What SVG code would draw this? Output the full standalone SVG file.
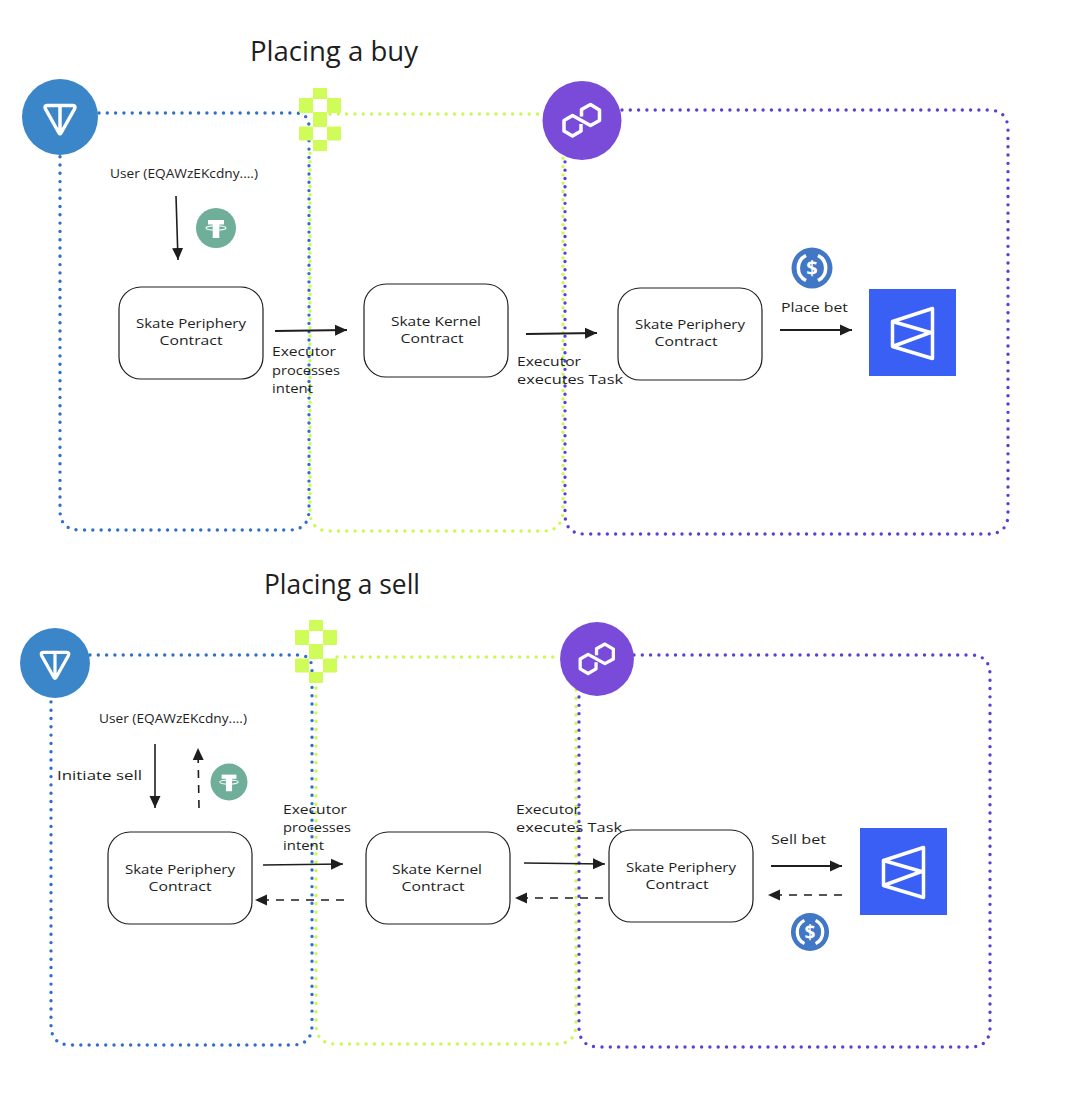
<svg xmlns="http://www.w3.org/2000/svg" width="1076" height="1102" viewBox="0 0 1076 1102">
<style>
text{font-family:"Open Sans","Liberation Sans",sans-serif;fill:#1e1e1e;font-size:13.5px}
.title{font-size:27px}
.c{text-anchor:middle}
.zone{fill:none;stroke-width:3.400;stroke-linecap:round;stroke-dasharray:0 8.3}
.blue{stroke:#2f6fc9}.green{stroke:#c9fa4e}.purple{stroke:#5a3fd4}
.box{fill:#fff;stroke:#1e1e1e;stroke-width:1.2}
.arrow{fill:none;stroke:#1e1e1e;stroke-width:1.6;marker-end:url(#head)}
.thick{stroke-width:2.200}
.dash{stroke-dasharray:8 7}
.wl{fill:none;stroke:#fff;stroke-width:3.5;stroke-linejoin:round}
.chk{fill:#cffc58;stroke:#cffc58;stroke-width:1;stroke-linejoin:round}
</style>
<defs>
<marker id="head" markerUnits="userSpaceOnUse" markerWidth="13" markerHeight="12" refX="12" refY="6" orient="auto"><path d="M0,0.5L12,6L0,11.5Z" fill="#1e1e1e"/></marker>
<g id="ton"><circle r="38" fill="#3a86c8"/><path class="wl" d="M-13,-11.5H13Q16,-11.5 14.5,-8L1,16Q0,17.500 -1,16L-14.500,-8Q-16,-11.500 -13,-11.500ZM0,-11.500V16"/></g>
<g id="poly"><circle r="39.500" fill="#7a4bd8"/><path class="wl" d="M-1,3.500V10.500L-9.500,15.500L-18,10.500V0L-9.500,-5L8.500,5L17.500,0V-10.500L8.500,-16L-0.500,-11V-4"/></g>
<g id="chk"><path class="chk" d="M15.500,0.500h13v10h-13zM1.500,10.500h13v14h-13zM29.500,10.500h13v14h-13zM15.500,24.500h13v14h-13zM1.500,39h13v13h-13zM29.500,39h13v13h-13zM15.500,52.500h13v10h-13z"/></g>
<g id="tether"><circle r="20" fill="#6fae98"/><rect x="-3.300" y="-5" width="6.600" height="15" fill="#fff"/><rect x="-8" y="-8" width="16" height="4.500" fill="#fff"/><ellipse cx="0" cy="0" rx="10" ry="2.200" fill="none" stroke="#fff" stroke-width="1.100"/></g>
<g id="usdc"><circle r="20.500" fill="#4277c6"/><path class="wl" stroke-width="2.500" d="M-6,-12.500A14,14 0 0 0 -6,12.500M6,-12.500A14,14 0 0 1 6,12.500"/></g>
<g id="bet"><rect x="-43.500" y="-43.500" width="87" height="87" fill="#3a5ff5"/><path class="wl" stroke-linejoin="miter" d="M-20,-11L20,-24V26L-20,14ZM-20,-11L18,0L-20,14"/></g>
</defs>

<g id="connectors">
<path class="zone blue" d="M99,113H295Q309,113 309,127V510Q309,530 289,530H80Q60,530 60,510V155"/>
<path class="zone green" d="M330,114H545M563,150V510Q563,531 543,531H330Q310,531 310,511V150"/>
<path class="zone purple" d="M622,110H988Q1008,110 1008,130V514Q1008,534 988,534H585Q565,534 565,514V158"/>
<path class="zone blue" d="M90,655H298Q312,655 312,669V1025Q312,1045 292,1045H71Q51,1045 51,1025V698"/>
<path class="zone green" d="M337,657H560M576,690V1024Q576,1044 556,1044H336Q316,1044 316,1024V685"/>
<path class="zone purple" d="M634,655H970Q990,655 990,675V1027Q990,1047 970,1047H599Q579,1047 579,1027V695"/>
<path class="arrow" d="M176,196L178,260"/>
<path class="arrow thick" d="M275,331L347,330"/>
<path class="arrow thick" d="M526,334L597,333"/>
<path class="arrow thick" d="M780,330L852,330"/>
<path class="arrow" d="M155,744V808"/>
<path class="arrow dash" d="M199,808L198,748"/>
<path class="arrow" d="M263,865L343,864"/>
<path class="arrow dash" d="M344,900H255"/>
<path class="arrow" d="M524,863L605,864"/>
<path class="arrow dash" d="M603,898H515"/>
<path class="arrow thick" d="M771,866H842"/>
<path class="arrow dash" d="M842,895H768"/>
</g>

<g id="title-buy"><text class="title" x="250" y="61" textLength="168" lengthAdjust="spacingAndGlyphs">Placing a buy</text></g>
<g id="ton-1"><use href="#ton" x="60" y="117"/></g>
<g id="checker-1"><use href="#chk" x="298" y="88"/></g>
<g id="polygon-1"><use href="#poly" x="582" y="120.500"/></g>
<g id="user-1"><text x="110" y="178" textLength="148" lengthAdjust="spacingAndGlyphs">User (EQAWzEKcdny....)</text></g>
<g id="tether-1"><use href="#tether" x="216" y="228"/></g>
<g id="usdc-1"><use href="#usdc" x="812" y="268"/><text class="c" x="812" y="275" style="fill:#fff;font-size:20px;font-weight:700">$</text></g>
<g id="periphery-1"><rect class="box" x="119" y="287" width="144" height="92" rx="22"/><text class="c" x="191" y="328" textLength="110" lengthAdjust="spacingAndGlyphs">Skate Periphery</text><text class="c" x="191" y="345" textLength="63" lengthAdjust="spacingAndGlyphs">Contract</text></g>
<g id="kernel-1"><rect class="box" x="364" y="284" width="144" height="93" rx="22"/><text class="c" x="436" y="326" textLength="90" lengthAdjust="spacingAndGlyphs">Skate Kernel</text><text class="c" x="432" y="343" textLength="63" lengthAdjust="spacingAndGlyphs">Contract</text></g>
<g id="periphery-2"><rect class="box" x="618" y="288" width="144" height="92" rx="22"/><text class="c" x="690" y="329" textLength="110" lengthAdjust="spacingAndGlyphs">Skate Periphery</text><text class="c" x="686" y="346" textLength="63" lengthAdjust="spacingAndGlyphs">Contract</text></g>
<g id="bet-1"><use href="#bet" x="912.500" y="332.500"/></g>
<g id="labels-1">
<text x="272" y="356" textLength="64" lengthAdjust="spacingAndGlyphs">Executor</text>
<text x="272" y="375" textLength="68" lengthAdjust="spacingAndGlyphs">processes</text>
<text x="272" y="393" textLength="41" lengthAdjust="spacingAndGlyphs">intent</text>
<text x="517" y="366" textLength="64" lengthAdjust="spacingAndGlyphs">Executor</text>
<text x="517" y="384" textLength="106" lengthAdjust="spacingAndGlyphs">executes Task</text>
<text x="781" y="312" textLength="67" lengthAdjust="spacingAndGlyphs">Place bet</text>
</g>

<g id="title-sell"><text class="title" x="264" y="594" textLength="156" lengthAdjust="spacingAndGlyphs">Placing a sell</text></g>
<g id="ton-2"><use href="#ton" transform="translate(55 663) scale(.92)"/></g>
<g id="checker-2"><use href="#chk" x="294" y="620"/></g>
<g id="polygon-2"><use href="#poly" transform="translate(597 659) scale(.935)"/></g>
<g id="user-2"><text x="99" y="723" textLength="148" lengthAdjust="spacingAndGlyphs">User (EQAWzEKcdny....)</text></g>
<g id="tether-2"><use href="#tether" transform="translate(229 782) scale(.925)"/></g>
<g id="usdc-2"><use href="#usdc" transform="translate(810 932) scale(.93)"/><text class="c" x="810" y="939" style="fill:#fff;font-size:19px;font-weight:700">$</text></g>
<g id="periphery-3"><rect class="box" x="108" y="832" width="144" height="92" rx="22"/><text class="c" x="180" y="874" textLength="110" lengthAdjust="spacingAndGlyphs">Skate Periphery</text><text class="c" x="180" y="891" textLength="63" lengthAdjust="spacingAndGlyphs">Contract</text></g>
<g id="kernel-2"><rect class="box" x="366" y="832" width="144" height="92" rx="22"/><text class="c" x="437" y="874" textLength="90" lengthAdjust="spacingAndGlyphs">Skate Kernel</text><text class="c" x="433" y="891" textLength="63" lengthAdjust="spacingAndGlyphs">Contract</text></g>
<g id="periphery-4"><rect class="box" x="609" y="830" width="144" height="92" rx="22"/><text class="c" x="681" y="872" textLength="110" lengthAdjust="spacingAndGlyphs">Skate Periphery</text><text class="c" x="677" y="889" textLength="63" lengthAdjust="spacingAndGlyphs">Contract</text></g>
<g id="bet-2"><use href="#bet" x="903.500" y="871.500"/></g>
<g id="labels-2">
<text x="57" y="780" textLength="85" lengthAdjust="spacingAndGlyphs">Initiate sell</text>
<text x="283" y="814" textLength="64" lengthAdjust="spacingAndGlyphs">Executor</text>
<text x="283" y="832" textLength="68" lengthAdjust="spacingAndGlyphs">processes</text>
<text x="283" y="850" textLength="41" lengthAdjust="spacingAndGlyphs">intent</text>
<text x="516" y="814" textLength="64" lengthAdjust="spacingAndGlyphs">Executor</text>
<text x="516" y="832" textLength="106" lengthAdjust="spacingAndGlyphs">executes Task</text>
<text x="771" y="844" textLength="55" lengthAdjust="spacingAndGlyphs">Sell bet</text>
</g>
</svg>
